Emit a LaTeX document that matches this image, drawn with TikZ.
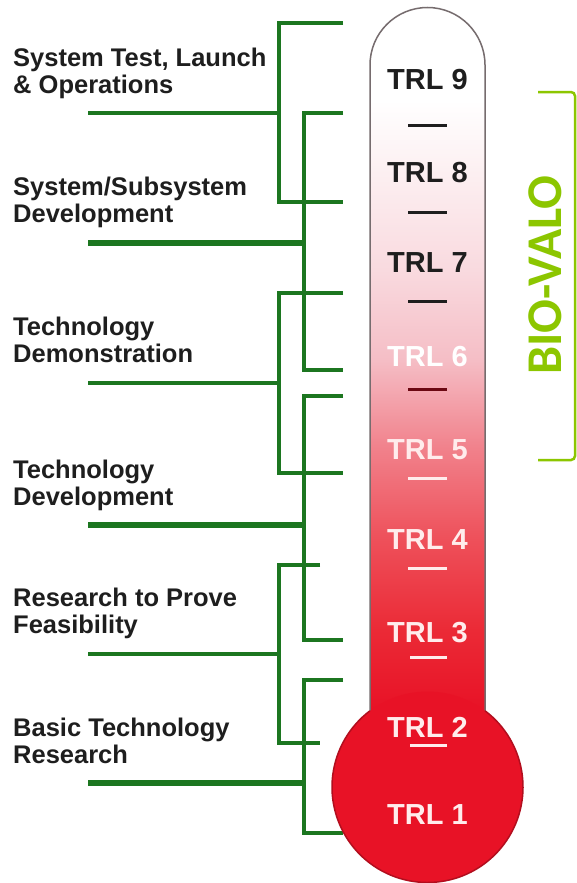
\documentclass[tikz,border=0pt]{standalone}
\usepackage{fontspec}
\setmainfont{Liberation Sans}
\newfontfamily\calib{Carlito}
\usetikzlibrary{positioning}

\definecolor{branch}{RGB}{28,118,32}
\definecolor{lime}{RGB}{140,198,0}
\definecolor{ink}{RGB}{30,30,30}
\definecolor{bulbred}{RGB}{232,18,38}
\definecolor{bulbedge}{RGB}{178,14,30}
\definecolor{glass}{RGB}{118,108,110}
\definecolor{pale}{RGB}{255,236,236}
\definecolor{m1}{RGB}{235,42,54}
\definecolor{m2}{RGB}{238,80,90}
\definecolor{m3}{RGB}{241,128,138}
\definecolor{m4}{RGB}{245,190,198}
\definecolor{m5}{RGB}{249,218,223}
\definecolor{m6}{RGB}{252,238,240}

% white at the top of the tube, red down at the bulb
\pgfdeclareverticalshading{mercury}{100bp}{color(0bp)=(bulbred); color(27bp)=(bulbred);
  color(32.5bp)=(m1); color(38.7bp)=(m2); color(44.8bp)=(m3); color(51bp)=(m4);
  color(57.1bp)=(m5); color(63.3bp)=(m6); color(68.7bp)=(white); color(100bp)=(white)}

\tikzstyle{phase} = [anchor=north west,align=left,inner sep=0,text=ink,font=\bfseries\fontsize{25.5}{27}\selectfont]
\tikzstyle{level} = [inner sep=0,font=\bfseries\fontsize{29}{29}\selectfont]
\tikzstyle{notch} = [line width=3pt]
\tikzstyle{arm} = [draw=branch,line width=3.8pt]
\tikzstyle{feed} = [draw=branch,line width=3.8pt]
\tikzstyle{bigfeed} = [draw=branch,line width=6.5pt]

\begin{document}
\begin{tikzpicture}[x=1pt,y=-1pt]
  \useasboundingbox (0,0) rectangle (577,883);
  \fill[white] (0,0) rectangle (577,883);

  % bracket ends
  \coordinate (tip) at (343,0);
  \coordinate (tipS) at (320,0);
  \coordinate (b1t) at (279,23);  \coordinate (b1b) at (279,202); \coordinate (b1f) at (88,113);
  \coordinate (b2t) at (304,113); \coordinate (b2b) at (304,370); \coordinate (b2f) at (88,243);
  \coordinate (b3t) at (279,293); \coordinate (b3b) at (279,473); \coordinate (b3f) at (88,383);
  \coordinate (b4t) at (304,396); \coordinate (b4b) at (304,640); \coordinate (b4f) at (88,525);
  \coordinate (b5t) at (279,565); \coordinate (b5b) at (279,743); \coordinate (b5f) at (88,654);
  \coordinate (b6t) at (304,680); \coordinate (b6b) at (304,833); \coordinate (b6f) at (88,783);

  \draw[arm] (b1t -| tip) -- (b1t) -- (b1b) -- (b1b -| tip);
  \draw[feed] (b1f) -- (b1f -| b1t);
  \draw[arm] (b2t -| tip) -- (b2t) -- (b2b) -- (b2b -| tip);
  \draw[bigfeed] (b2f) -- (b2f -| b2t);
  \draw[arm] (b3t -| tip) -- (b3t) -- (b3b) -- (b3b -| tip);
  \draw[feed] (b3f) -- (b3f -| b3t);
  \draw[arm] (b4t -| tip) -- (b4t) -- (b4b) -- (b4b -| tip);
  \draw[bigfeed] (b4f) -- (b4f -| b4t);
  \draw[arm] (b5t -| tipS) -- (b5t) -- (b5b) -- (b5b -| tipS);
  \draw[feed] (b5f) -- (b5f -| b5t);
  \draw[arm] (b6t -| tip) -- (b6t) -- (b6b) -- (b6b -| tip);
  \draw[bigfeed] (b6f) -- (b6f -| b6t);

  % thermometer
  \shade[shading=mercury] (370,740) -- (370,65) arc[start angle=180,end angle=360,radius=57.5] -- (485,740) -- cycle;
  \draw[glass,line width=1.5pt] (370,711) -- (370,65) arc[start angle=180,end angle=360,radius=57.5] -- (485,711);
  \fill[bulbred] (427.5,787) circle[radius=95.5];
  \draw[bulbedge,line width=1.5pt] (427.5,787) ++(-52.9:95.5) arc[start angle=-52.9,end angle=232.9,radius=95.5];

  \draw[notch,ink] (408,125) -- (447,125);
  \draw[notch,ink] (408,212) -- (447,212);
  \draw[notch,ink] (408,301) -- (447,301);
  \draw[notch,bulbedge!60!black] (408,389) -- (447,389);
  \draw[notch,pale] (408,478) -- (447,478);
  \draw[notch,pale] (408,568) -- (447,568);
  \draw[notch,pale] (410,657) -- (447,657);
  \draw[notch,pale] (410,745) -- (447,745);

  \node[level,text=ink] (trl9) at (427.5,80) {TRL 9};
  \node[level,text=ink] (trl8) at (427.5,173) {TRL 8};
  \node[level,text=ink] (trl7) at (427.5,263) {TRL 7};
  \node[level,text=white] (trl6) at (427.5,357) {TRL 6};
  \node[level,text=pale] (trl5) at (427.5,450) {TRL 5};
  \node[level,text=pale] (trl4) at (427.5,540) {TRL 4};
  \node[level,text=pale] (trl3) at (427.5,633) {TRL 3};
  \node[level,text=pale] (trl2) at (427.5,727) {TRL 2};
  \node[level,text=pale] (trl1) at (427.5,815) {TRL 1};

  % phase names
  \node[phase] (stlo) at (13,48) {System Test, Launch\\\& Operations};
  \node[phase] (ssd) at (13,177) {System/Subsystem\\Development};
  \node[phase] (tdem) at (13,317) {Technology\\Demonstration};
  \node[phase] (tdev) at (13,460) {Technology\\Development};
  \node[phase] (rpf) at (13,588) {Research to Prove\\Feasibility};
  \node[phase] (btr) at (13,718) {Basic Technology\\Research};

  % BIO-VALO span
  \draw[lime,line width=2.5pt,rounded corners=4pt] (538,92) -- (575,92) -- (575,460) -- (538,460);
  \node[rotate=90,inner sep=0,text=lime,font=\calib\bfseries\fontsize{50}{50}\selectfont] (biovalo) at (545,275) {BIO-VALO};
\end{tikzpicture}
\end{document}
